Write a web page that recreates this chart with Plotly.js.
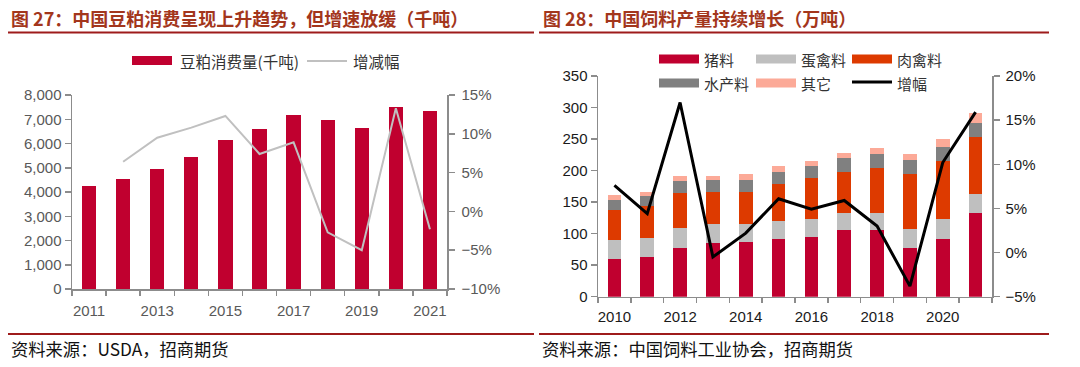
<!DOCTYPE html>
<html>
<head>
<meta charset="utf-8">
<script src="https://cdn.plot.ly/plotly-3.0.1.min.js"></script>
<style>
html,body{margin:0;padding:0;background:#fff;}
#chart{width:1080px;height:367px;}
</style>
</head>
<body>
<div id="chart"></div>
<script>
// ---------- Data: Figure 27 (soybean meal consumption) ----------
const soyYears = [2011, 2012, 2013, 2014, 2015, 2016, 2017, 2018, 2019, 2020, 2021];
const soyMeal = [4240, 4520, 4950, 5460, 6150, 6590, 7190, 6980, 6630, 7520, 7340];
const soyGrowth = [null, 6.4, 9.5, 10.8, 12.3, 7.4, 8.9, -2.7, -5.0, 13.3, -2.3];
const soyTickVals = [2011, 2013, 2015, 2017, 2019, 2021];
const soyNames = ['豆粕消费量(千吨)', '增减幅'];

// ---------- Data: Figure 28 (feed production, 10k tonnes) ----------
const feedYears = [2010, 2011, 2012, 2013, 2014, 2015, 2016, 2017, 2018, 2019, 2020, 2021];
const pigFeed = [60, 63, 77, 85, 87, 91, 95, 106, 105, 77, 91, 132];
const eggFeed = [30, 30.5, 32, 30, 29, 28.5, 28, 27.5, 28.5, 30.5, 33, 31];
const meatFeed = [48, 51, 55, 51, 50, 60, 66, 65, 71, 87, 92, 90];
const aquaFeed = [15, 15, 19, 19, 19, 19, 19, 21, 22, 22, 21, 23];
const otherFeed = [8, 7, 8, 7, 9, 8, 8, 8, 10, 10.5, 13, 15];
const feedGrowth = [7.6, 4.4, 17.0, -0.5, 2.2, 6.1, 4.9, 5.9, 3.0, -3.8, 10.2, 15.9];
const feedTickVals = [2010, 2012, 2014, 2016, 2018, 2020];
const feedNames = ['猪料', '蛋禽料', '肉禽料', '水产料', '其它', '增幅'];

// ---------- Texts ----------
const title27 = '图 27：中国豆粕消费呈现上升趋势，但增速放缓（千吨）';
const title28 = '图 28：中国饲料产量持续增长（万吨）';
const source27 = '资料来源：USDA，招商期货';
const source28 = '资料来源：中国饲料工业协会，招商期货';

// ---------- Styles ----------
const RED = '#C0002F';
const feedColors = ['#C0002F', '#BFBFBF', '#DD3A00', '#808080', '#FCAA98', '#000000'];
const W = 1080, H = 367;
const px = v => v / W;
const py = v => 1 - v / H;
const NUM = 'Liberation Sans, Arial, sans-serif';
const CJK = 'Noto Sans CJK SC, sans-serif';
const axisGray = '#8C8C8C';

const traces = [
  {type: 'bar', x: soyYears, y: soyMeal, name: soyNames[0], marker: {color: RED},
   xaxis: 'x', yaxis: 'y', showlegend: false},
  {type: 'scatter', mode: 'lines', x: soyYears, y: soyGrowth, name: soyNames[1],
   line: {color: '#C0C0C0', width: 2}, xaxis: 'x', yaxis: 'y2', showlegend: false},
  {type: 'bar', x: feedYears, y: pigFeed, name: feedNames[0], marker: {color: feedColors[0]}, xaxis: 'x2', yaxis: 'y3', showlegend: false},
  {type: 'bar', x: feedYears, y: eggFeed, name: feedNames[1], marker: {color: feedColors[1]}, xaxis: 'x2', yaxis: 'y3', showlegend: false},
  {type: 'bar', x: feedYears, y: meatFeed, name: feedNames[2], marker: {color: feedColors[2]}, xaxis: 'x2', yaxis: 'y3', showlegend: false},
  {type: 'bar', x: feedYears, y: aquaFeed, name: feedNames[3], marker: {color: feedColors[3]}, xaxis: 'x2', yaxis: 'y3', showlegend: false},
  {type: 'bar', x: feedYears, y: otherFeed, name: feedNames[4], marker: {color: feedColors[4]}, xaxis: 'x2', yaxis: 'y3', showlegend: false},
  {type: 'scatter', mode: 'lines', x: feedYears, y: feedGrowth, name: feedNames[5],
   line: {color: '#000000', width: 3}, xaxis: 'x2', yaxis: 'y4', showlegend: false}
];

function xAxis(domain, range, tickvals, anchor, color, standoff) {
  return {
    domain: domain, range: range, anchor: anchor,
    tickmode: 'array', tickvals: tickvals, ticktext: tickvals.map(String),
    ticks: '', showgrid: false, zeroline: false,
    showline: true, linecolor: axisGray, linewidth: 1.5,
    tickfont: {family: NUM, size: 15, color: color}, ticklabelstandoff: standoff,
    minor: {tick0: range[0], dtick: 1, ticks: 'outside', ticklen: 5, tickcolor: axisGray, tickwidth: 1.5, showgrid: false},
    fixedrange: true
  };
}
function yAxis(domain, range, dtick, anchor, side, overlaying, suffix, color, fmt, standoff) {
  const a = {
    domain: domain, range: range, anchor: anchor, side: side,
    dtick: dtick, tick0: range[0], ticks: 'outside', ticklen: 6, tickcolor: axisGray, tickwidth: 1.5,
    showgrid: false, zeroline: false, showline: true, linecolor: axisGray, linewidth: 1.5,
    tickfont: {family: NUM, size: 15, color: color}, ticksuffix: suffix || '',
    ticklabelstandoff: standoff || 0,
    fixedrange: true
  };
  if (overlaying) a.overlaying = overlaying;
  if (fmt) a.tickformat = fmt;
  return a;
}

const leftDomX = [px(72), px(447)];
const leftDomY = [py(289), py(95)];
const rightDomX = [px(598), px(992)];
const rightDomY = [py(296.7), py(76)];

const shapes = [];
const annotations = [];

// header & footer rules
[[8, 534], [539, 1049]].forEach(([a, b]) => {
  shapes.push({type: 'line', xref: 'paper', yref: 'paper', x0: px(a), x1: px(b), y0: py(32.5), y1: py(32.5), line: {color: '#9E1B1B', width: 2}});
  shapes.push({type: 'line', xref: 'paper', yref: 'paper', x0: px(a), x1: px(b), y0: py(334), y1: py(334), line: {color: '#9E1B1B', width: 2}});
});

// titles
annotations.push({text: '<b>' + title27 + '</b>', xref: 'paper', yref: 'paper', x: px(9), y: py(18), xanchor: 'left', yanchor: 'middle', showarrow: false, font: {family: CJK, size: 18, color: '#A3361C'}});
annotations.push({text: '<b>' + title28 + '</b>', xref: 'paper', yref: 'paper', x: px(541), y: py(18), xanchor: 'left', yanchor: 'middle', showarrow: false, font: {family: CJK, size: 18, color: '#A3361C'}});
// sources
annotations.push({text: source27, xref: 'paper', yref: 'paper', x: px(9), y: py(348), xanchor: 'left', yanchor: 'middle', showarrow: false, font: {family: CJK, size: 17.3, color: '#111'}});
annotations.push({text: source28, xref: 'paper', yref: 'paper', x: px(540), y: py(348), xanchor: 'left', yanchor: 'middle', showarrow: false, font: {family: CJK, size: 17.3, color: '#111'}});

// legend helpers
function legBox(x0, yc, color) {
  shapes.push({type: 'rect', xref: 'paper', yref: 'paper', x0: px(x0), x1: px(x0 + 40), y0: py(yc + 4.5), y1: py(yc - 4.5), fillcolor: color, line: {width: 0}});
}
function legLine(x0, x1, yc, color, w) {
  shapes.push({type: 'line', xref: 'paper', yref: 'paper', x0: px(x0), x1: px(x1), y0: py(yc), y1: py(yc), line: {color: color, width: w}});
}
function legText(x, yc, txt, size) {
  annotations.push({text: txt, xref: 'paper', yref: 'paper', x: px(x), y: py(yc), xanchor: 'left', yanchor: 'middle', showarrow: false, font: {family: CJK, size: size, color: '#333'}});
}
// left legend
legBox(132, 60.5, RED);
legText(178, 61, soyNames[0], 15.5);
legLine(307, 347, 61, '#C0C0C0', 2);
legText(351, 61, soyNames[1], 15.5);
// right legend
const legCols = [659, 756, 852];
const legRows = [59, 83];
feedNames.forEach((n, i) => {
  const c = legCols[i % 3], r = legRows[Math.floor(i / 3)];
  if (i < 5) legBox(c, r, feedColors[i]);
  else legLine(c, c + 40, r - 1, feedColors[i], 3);
  legText(c + 43, r, n, 15);
});

const layout = {
  width: W, height: H,
  margin: {l: 0, r: 0, t: 0, b: 0},
  paper_bgcolor: '#fff', plot_bgcolor: 'rgba(0,0,0,0)',
  barmode: 'stack', bargap: 0.58,
  showlegend: false,
  xaxis: xAxis(leftDomX, [2010.5, 2021.5], soyTickVals, 'y', '#595959', 7),
  yaxis: yAxis(leftDomY, [0, 8000], 1000, 'x', 'left', null, '', '#595959', ',d', 0),
  yaxis2: yAxis(leftDomY, [-10, 15], 5, 'x', 'right', 'y', '%', '#595959', null, 4),
  xaxis2: xAxis(rightDomX, [2009.5, 2021.5], feedTickVals, 'y3', '#1a1a1a', 6),
  yaxis3: yAxis(rightDomY, [0, 350], 50, 'x2', 'left', null, '', '#1a1a1a', null, 0),
  yaxis4: yAxis(rightDomY, [-5, 20], 5, 'x2', 'right', 'y3', '%', '#1a1a1a', null, 3),
  shapes: shapes,
  annotations: annotations
};

Plotly.newPlot('chart', traces, layout, {displayModeBar: false, staticPlot: true});
</script>
</body>
</html>
